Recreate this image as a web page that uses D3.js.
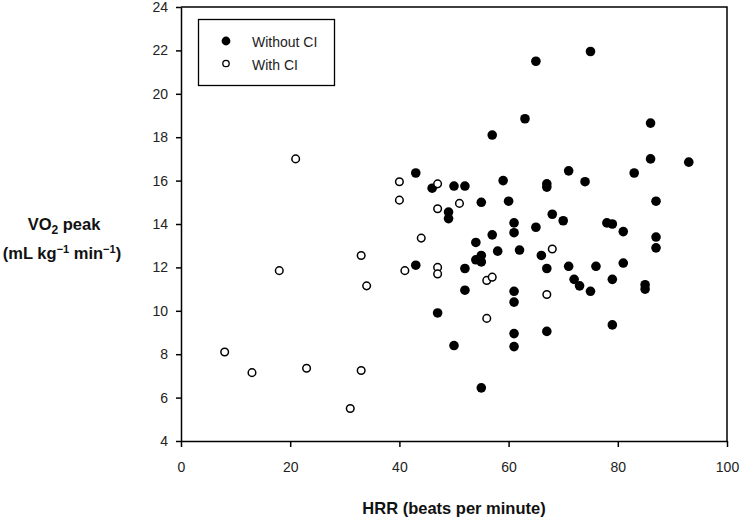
<!DOCTYPE html>
<html>
<head>
<meta charset="utf-8">
<script src="https://cdn.jsdelivr.net/npm/d3@7"></script>
<style>
  body { margin: 0; background: #fff; }
  svg { display: block; font-family: "Liberation Sans", Arial, sans-serif; }
</style>
</head>
<body>
<div id="chart"></div>
<script>
// Chart size and plot area edges.
const WIDTH = 742;
const HEIGHT = 523;
const LEFT = 181, RIGHT = 727, TOP = 7, BOTTOM = 441;

// Tick values.
const X_TICKS = [0, 20, 40, 60, 80, 100];
const Y_TICKS = [4, 6, 8, 10, 12, 14, 16, 18, 20, 22, 24];

// Patients without CI: HRR (beats/min) and VO2 peak (mL/kg/min).
const withoutHRR = [65, 63, 57, 43, 46, 50, 52, 59, 67, 67, 49, 49, 55, 60, 68, 61, 65,
  75, 86, 86, 93, 71, 74, 83, 87, 70, 78, 79, 81, 87, 87, 61, 57, 54, 55, 54, 55, 58,
  62, 66, 43, 52, 67, 52, 61, 61, 47, 61, 61, 67, 50, 55, 71, 76, 81, 72, 73, 75, 79,
  85, 85, 79];
const withoutVO2 = [21.5, 18.85, 18.1, 16.35, 15.65, 15.75, 15.75, 16.0, 15.85, 15.7,
  14.55, 14.25, 15.0, 15.05, 14.45, 14.05, 13.85, 21.95, 18.65, 17.0, 16.85, 16.45,
  15.95, 16.35, 15.05, 14.15, 14.05, 14.0, 13.65, 13.4, 12.9, 13.6, 13.5, 13.15, 12.55,
  12.35, 12.25, 12.75, 12.8, 12.55, 12.1, 11.95, 11.95, 10.95, 10.9, 10.4, 9.9, 8.95,
  8.35, 9.05, 8.4, 6.45, 12.05, 12.05, 12.2, 11.45, 11.15, 10.9, 11.45, 11.2, 11.0, 9.35];

// Patients with CI.
const withHRR = [21, 8, 13, 18, 23, 33, 34, 33, 31, 40, 47, 40, 47, 51, 44, 68, 41, 47,
  47, 56, 57, 67, 56];
const withVO2 = [17.0, 8.1, 7.15, 11.85, 7.35, 12.55, 11.15, 7.25, 5.5, 15.95, 15.85,
  15.1, 14.7, 14.95, 13.35, 12.85, 11.85, 12.0, 11.7, 11.4, 11.55, 10.75, 9.65];

const LEGEND = ["Without CI", "With CI"];

const svg = d3
  .select("#chart")
  .append("svg")
  .attr("width", WIDTH)
  .attr("height", HEIGHT);

const x = d3.scaleLinear().domain([0, 100]).range([LEFT, RIGHT]);
const y = d3.scaleLinear().domain([4, 24]).range([BOTTOM, TOP]);

// Frame: top and right edges.
svg.append("path")
  .attr("d", `M${LEFT},${TOP}H${RIGHT}V${BOTTOM}`)
  .attr("fill", "none")
  .attr("stroke", "#000")
  .attr("stroke-width", 1.5);

// Axes.
const xAxis = svg.append("g")
  .attr("transform", `translate(0,${BOTTOM})`)
  .call(d3.axisBottom(x).tickValues(X_TICKS).tickSize(6).tickPadding(15).tickSizeOuter(0));

const yAxis = svg.append("g")
  .attr("transform", `translate(${LEFT},0)`)
  .call(d3.axisLeft(y).tickValues(Y_TICKS).tickSize(5).tickPadding(8).tickSizeOuter(0));

[xAxis, yAxis].forEach((g) => {
  g.selectAll("path, line").attr("stroke", "#000").attr("stroke-width", 1.5);
  g.selectAll("text")
    .attr("fill", "#222")
    .style("font-size", "14px")
    .style("font-family", "'Liberation Sans', Arial, sans-serif");
});

// Points without CI (filled).
svg.append("g")
  .selectAll("circle")
  .data(withoutHRR.map((d, i) => [d, withoutVO2[i]]))
  .enter()
  .append("circle")
  .attr("cx", (d) => x(d[0]))
  .attr("cy", (d) => y(d[1]))
  .attr("r", 4.8)
  .attr("fill", "#000");

// Points with CI (open).
svg.append("g")
  .selectAll("circle")
  .data(withHRR.map((d, i) => [d, withVO2[i]]))
  .enter()
  .append("circle")
  .attr("cx", (d) => x(d[0]))
  .attr("cy", (d) => y(d[1]))
  .attr("r", 3.8)
  .attr("fill", "#fff")
  .attr("stroke", "#000")
  .attr("stroke-width", 1.5);

// Legend.
const legend = svg.append("g");
legend.append("rect")
  .attr("x", 198.5).attr("y", 19.5)
  .attr("width", 136).attr("height", 66)
  .attr("fill", "#fff")
  .attr("stroke", "#000")
  .attr("stroke-width", 1.3);

const items = legend.selectAll("g.item")
  .data(LEGEND)
  .enter()
  .append("g")
  .attr("class", "item")
  .attr("transform", (d, i) => `translate(226,${41 + i * 22.5})`);

items.append("circle")
  .attr("r", (d, i) => (i === 0 ? 4.4 : 3.2))
  .attr("fill", (d, i) => (i === 0 ? "#000" : "#fff"))
  .attr("stroke", "#000")
  .attr("stroke-width", (d, i) => (i === 0 ? 0 : 1.3));

items.append("text")
  .attr("x", 26)
  .attr("y", 6)
  .style("font-size", "14px")
  .attr("fill", "#222")
  .text((d) => d);

// Axis titles.
svg.append("text")
  .attr("x", (LEFT + RIGHT) / 2)
  .attr("y", 514)
  .attr("text-anchor", "middle")
  .style("font-size", "16.5px")
  .style("font-weight", "bold")
  .attr("fill", "#111")
  .text("HRR (beats per minute)");

const yt1 = svg.append("text")
  .attr("x", 64)
  .attr("y", 230)
  .attr("text-anchor", "middle")
  .style("font-size", "16.5px")
  .style("font-weight", "bold")
  .attr("fill", "#111");
yt1.append("tspan").text("VO");
yt1.append("tspan").attr("dy", 4).style("font-size", "12px").text("2");
yt1.append("tspan").attr("dy", -4).text(" peak");

const yt2 = svg.append("text")
  .attr("x", 62)
  .attr("y", 259)
  .attr("text-anchor", "middle")
  .style("font-size", "16.5px")
  .style("font-weight", "bold")
  .attr("fill", "#111");
yt2.append("tspan").text("(mL kg");
yt2.append("tspan").attr("dy", -6).style("font-size", "11px").text("\u22121");
yt2.append("tspan").attr("dy", 6).text(" min");
yt2.append("tspan").attr("dy", -6).style("font-size", "11px").text("\u22121");
yt2.append("tspan").attr("dy", 6).text(")");
</script>
</body>
</html>
